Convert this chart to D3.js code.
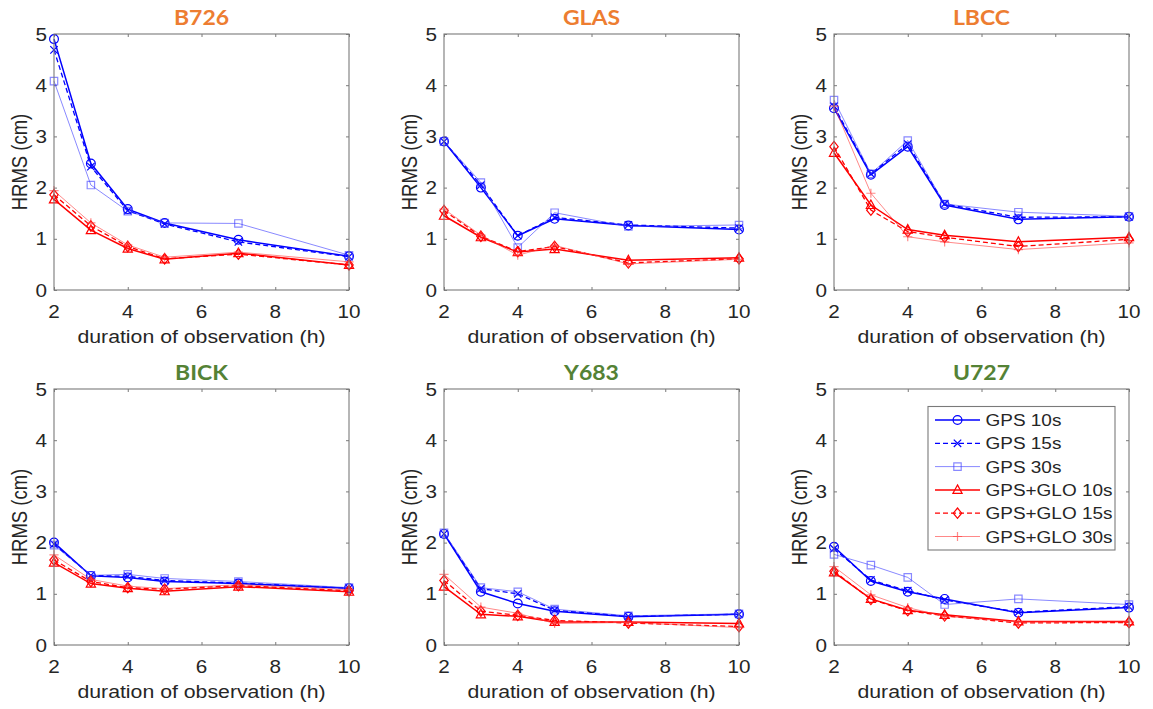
<!DOCTYPE html>
<html>
<head>
<meta charset="utf-8">
<script src="https://cdn.jsdelivr.net/npm/d3@7"></script>
<style>
  body { margin: 0; background: #fff; }
  svg { display: block; }
</style>
</head>
<body>
<svg id="chart" width="1153" height="709"></svg>
<script>
// ---- data -------------------------------------------------------------
const durations = [2, 3, 4, 5, 7, 10];               // hours
const stations = ["B726", "GLAS", "LBCC", "BICK", "Y683", "U727"];
const xTicks = [2, 4, 6, 8, 10];
const yTicks = [0, 1, 2, 3, 4, 5];
const seriesNames = ["GPS 10s", "GPS 15s", "GPS 30s", "GPS+GLO 10s", "GPS+GLO 15s", "GPS+GLO 30s"];

// HRMS (cm): one row per station (order of `stations`), one column per duration
const gps10s = [
  [4.90, 2.47, 1.58, 1.31, 0.98, 0.66],
  [2.90, 2.00, 1.06, 1.39, 1.26, 1.18],
  [3.55, 2.25, 2.80, 1.66, 1.38, 1.43],
  [2.00, 1.35, 1.32, 1.24, 1.20, 1.11],
  [2.17, 1.04, 0.81, 0.66, 0.55, 0.60],
  [1.92, 1.25, 1.04, 0.90, 0.63, 0.73]
];
const gps15s = [
  [4.69, 2.41, 1.55, 1.29, 0.94, 0.65],
  [2.90, 2.05, 1.06, 1.42, 1.27, 1.21],
  [3.59, 2.27, 2.85, 1.68, 1.42, 1.43],
  [1.97, 1.36, 1.34, 1.26, 1.21, 1.11],
  [2.17, 1.10, 1.00, 0.68, 0.56, 0.60],
  [1.88, 1.27, 1.06, 0.88, 0.64, 0.75]
];
const gps30s = [
  [4.08, 2.05, 1.54, 1.31, 1.30, 0.68],
  [2.90, 2.10, 0.83, 1.51, 1.24, 1.27],
  [3.71, 2.27, 2.92, 1.68, 1.52, 1.44],
  [1.95, 1.36, 1.38, 1.30, 1.24, 1.12],
  [2.19, 1.12, 1.04, 0.70, 0.57, 0.61],
  [1.77, 1.56, 1.32, 0.79, 0.90, 0.79]
];
const glo10s = [
  [1.77, 1.17, 0.81, 0.60, 0.72, 0.49],
  [1.45, 1.03, 0.74, 0.80, 0.58, 0.63],
  [2.68, 1.66, 1.18, 1.07, 0.94, 1.03],
  [1.61, 1.20, 1.11, 1.05, 1.14, 1.04],
  [1.14, 0.60, 0.56, 0.45, 0.45, 0.42],
  [1.42, 0.90, 0.68, 0.59, 0.46, 0.46]
];
const glo15s = [
  [1.86, 1.25, 0.85, 0.61, 0.70, 0.49],
  [1.55, 1.05, 0.75, 0.85, 0.53, 0.61],
  [2.80, 1.56, 1.14, 1.03, 0.85, 0.99],
  [1.66, 1.24, 1.12, 1.09, 1.16, 1.06],
  [1.26, 0.66, 0.58, 0.48, 0.43, 0.36],
  [1.44, 0.89, 0.67, 0.57, 0.43, 0.44]
];
const glo30s = [
  [1.94, 1.31, 0.88, 0.64, 0.74, 0.55],
  [1.58, 1.07, 0.68, 0.87, 0.51, 0.60],
  [3.59, 1.89, 1.04, 0.94, 0.79, 0.92],
  [1.76, 1.28, 1.15, 1.10, 1.18, 1.08],
  [1.38, 0.74, 0.62, 0.42, 0.44, 0.34],
  [1.53, 0.98, 0.73, 0.56, 0.45, 0.45]
];

// ---- styling ----------------------------------------------------------
const seriesValues = [gps10s, gps15s, gps30s, glo10s, glo15s, glo30s];
const seriesStyle = [
  { color: "#0000ff", width: 1.5, dash: null,  opacity: 1,    marker: "circle" },
  { color: "#0000ff", width: 1.3, dash: "5,3", opacity: 1,    marker: "x" },
  { color: "#3b3bff", width: 1.0, dash: null,  opacity: 0.6,  marker: "square" },
  { color: "#ff0000", width: 1.5, dash: null,  opacity: 1,    marker: "triangle" },
  { color: "#ff0000", width: 1.3, dash: "5,3", opacity: 1,    marker: "diamond" },
  { color: "#ff3b3b", width: 1.0, dash: null,  opacity: 0.6,  marker: "plus" }
];
const titleColors = ["#ED7D31", "#ED7D31", "#ED7D31", "#548235", "#548235", "#548235"];

const panelLeft = [54, 444, 834];
const panelTop = [34, 389];
const W = 295, H = 256;
const STRETCH = 1.15;               // horizontally widened lettering
const axisGray = "#7a7a7a";
const textColor = "#262626";
const sansFont = "'Liberation Sans', Arial, Helvetica, sans-serif";

const markerPaths = {
  x:        "M-3.7,-3.7L3.7,3.7M-3.7,3.7L3.7,-3.7",
  square:   "M-3.7,-3.7H3.7V3.7H-3.7Z",
  triangle: "M0,-5L4.6,3.5H-4.6Z",
  diamond:  "M0,-5.2L4.2,0L0,5.2L-4.2,0Z",
  plus:     "M-4.6,0H4.6M0,-4.6V4.6"
};

const svg = d3.select("#chart");

const x = d3.scaleLinear().domain([2, 10]).range([0, W]);
const y = d3.scaleLinear().domain([0, 5]).range([H, 0]);
const line = d3.line().x((d, i) => x(durations[i])).y(d => y(d));

// text widened horizontally in page space
function wideText(parent, px, py, str, opts) {
  const g = parent.append("g")
    .attr("transform", `translate(${px},${py}) scale(${STRETCH},1)` + (opts.rotate ? ` rotate(${opts.rotate})` : ""));
  return g.append("text")
    .attr("x", 0).attr("y", 0)
    .attr("text-anchor", opts.anchor || "start")
    .attr("font-family", opts.family || sansFont)
    .attr("font-size", opts.size)
    .attr("font-weight", opts.weight || "normal")
    .attr("fill", opts.fill || textColor)
    .text(str);
}

function drawMarker(g, type, cx, cy, style) {
  const common = el => el
    .attr("fill", "none")
    .attr("stroke", style.color)
    .attr("stroke-width", 1.2)
    .attr("stroke-opacity", style.opacity);
  if (type === "circle") {
    common(g.append("circle").attr("cx", cx).attr("cy", cy).attr("r", 4.4));
  } else {
    common(g.append("path")
      .attr("d", markerPaths[type])
      .attr("transform", `translate(${cx},${cy})`));
  }
}

stations.forEach((name, s) => {
  const left = panelLeft[s % 3];
  const top = panelTop[Math.floor(s / 3)];
  const g = svg.append("g").attr("transform", `translate(${left},${top})`);

  // tick marks on all four sides, pointing inward
  const tickSets = [
    [d3.axisBottom(x).tickValues(xTicks).tickSize(-3).tickFormat(""), `translate(0,${H})`],
    [d3.axisTop(x).tickValues(xTicks).tickSize(-3).tickFormat(""), "translate(0,0)"],
    [d3.axisLeft(y).tickValues(yTicks).tickSize(-3).tickFormat(""), "translate(0,0)"],
    [d3.axisRight(y).tickValues(yTicks).tickSize(-3).tickFormat(""), `translate(${W},0)`]
  ];
  tickSets.forEach(([axis, tr]) => {
    const a = g.append("g").attr("transform", tr).call(axis);
    a.select(".domain").remove();
    a.selectAll("line").attr("stroke", axisGray).attr("stroke-width", 1);
  });

  // series lines and markers
  const plot = g.append("g");
  seriesValues.forEach((vals, k) => {
    const st = seriesStyle[k];
    const row = vals[s];
    plot.append("path")
      .attr("d", line(row))
      .attr("fill", "none")
      .attr("stroke", st.color)
      .attr("stroke-width", st.width)
      .attr("stroke-opacity", st.opacity)
      .attr("stroke-dasharray", st.dash);
    row.forEach((v, i) => drawMarker(plot, st.marker, x(durations[i]), y(v), st));
  });

  // axes box
  g.append("rect")
    .attr("x", 0).attr("y", 0).attr("width", W).attr("height", H)
    .attr("fill", "none").attr("stroke", axisGray).attr("stroke-width", 1.1);

  // tick labels
  xTicks.forEach(t => wideText(g, x(t), H + 28, String(t), { anchor: "middle", size: 18 }));
  yTicks.forEach(t => wideText(g, -7, y(t) + 6.5, String(t), { anchor: "end", size: 18 }));

  // axis titles
  wideText(g, W / 2, H + 53, "duration of observation (h)", { anchor: "middle", size: 18.5 });
  wideText(g, -27, H / 2, "HRMS (cm)", { anchor: "middle", size: 18.5, rotate: -90 });

  // station name
  wideText(g, W / 2, -9.5, name, {
    anchor: "middle", size: 20, weight: "bold",
    family: "Lato, 'Open Sans', sans-serif", fill: titleColors[s]
  });

  // legend in the last panel
  if (s === stations.length - 1) {
    const lg = g.append("g").attr("transform", "translate(94,17.5)");
    lg.append("rect")
      .attr("width", 187).attr("height", 143.5)
      .attr("fill", "#fff").attr("stroke", axisGray).attr("stroke-width", 1.1);
    seriesNames.forEach((label, k) => {
      const st = seriesStyle[k];
      const ry = 13.5 + k * 23.3;
      lg.append("line")
        .attr("x1", 7).attr("x2", 52).attr("y1", ry).attr("y2", ry)
        .attr("stroke", st.color).attr("stroke-width", st.width)
        .attr("stroke-opacity", st.opacity).attr("stroke-dasharray", st.dash);
      drawMarker(lg, st.marker, 29.5, ry, st);
      wideText(lg, 57.5, ry + 6, label, { size: 16.5 });
    });
  }
});
</script>
</body>
</html>
